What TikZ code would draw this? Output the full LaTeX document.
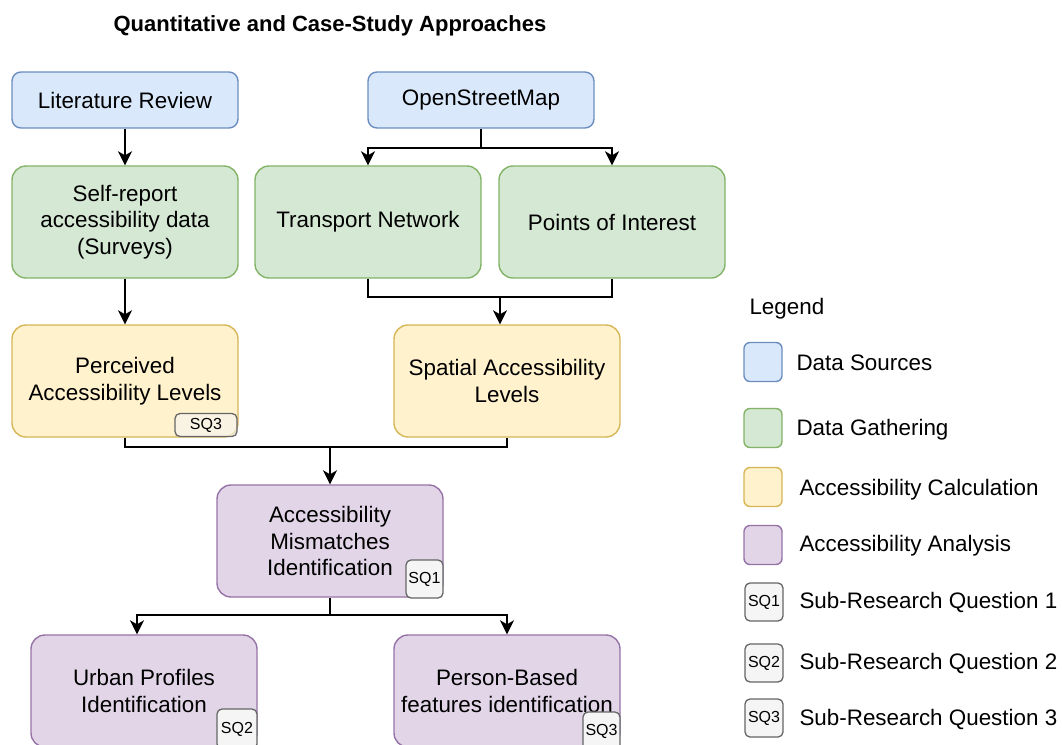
\documentclass[tikz,border=0pt]{standalone}
\usepackage{fontspec}
\setmainfont{Liberation Sans}
\usetikzlibrary{positioning,arrows.meta}
\definecolor{srcfill}{HTML}{DAE8FC}
\definecolor{srcline}{HTML}{6C8EBF}
\definecolor{gatherfill}{HTML}{D5E8D4}
\definecolor{gatherline}{HTML}{82B366}
\definecolor{calcfill}{HTML}{FFF2CC}
\definecolor{calcline}{HTML}{D6B656}
\definecolor{anafill}{HTML}{E1D5E7}
\definecolor{analine}{HTML}{9673A6}
\definecolor{sqfill}{HTML}{F5F5F5}
\definecolor{sqline}{HTML}{666666}
\newcommand{\diagfont}{\fontsize{22.4}{26.5}\selectfont}
\newcommand{\sqfont}{\fontsize{16}{18}\selectfont}
\tikzset{
  stage/.style={rounded corners=14pt,line width=1.4pt,minimum width=226pt,minimum height=112pt,align=center,font=\diagfont,inner sep=2pt},
  srcbox/.style={stage,draw=srcline,fill=srcfill,rounded corners=9pt,minimum height=56pt},
  gatherbox/.style={stage,draw=gatherline,fill=gatherfill},
  calcbox/.style={stage,draw=calcline,fill=calcfill},
  anabox/.style={stage,draw=analine,fill=anafill},
  sqbox/.style={draw=sqline,fill=sqfill,rounded corners=5pt,line width=1.3pt,inner sep=0pt,font=\sqfont,minimum width=37pt,minimum height=38pt},
  keybox/.style={rounded corners=6pt,line width=1.4pt,minimum width=38pt,minimum height=39pt,inner sep=0pt},
  keytext/.style={anchor=west,font=\diagfont},
  wire/.style={draw=black,line width=2pt},
  flow/.style={wire,-{Stealth[length=14pt,width=14pt,inset=4pt]}}}
\begin{document}
\begin{tikzpicture}[x=1pt,y=-1pt]
  \useasboundingbox (0,0) rectangle (1062,744);
  \node[font=\fontsize{22}{24}\selectfont\bfseries] (title) at (330,26) {Quantitative and Case-Study Approaches};
  % sources
  \node[srcbox] (lit) at (125,100) {Literature Review};
  \node[srcbox] (osm) at (481,100) {OpenStreetMap};
  % gathering
  \node[gatherbox] (self) at (125,222) {Self-report\\accessibility data\\(Surveys)};
  \node[gatherbox] (tn) at (368,222) {Transport Network};
  \node[gatherbox] (poi) at (612,222) {Points of Interest};
  % calculation
  \node[calcbox] (perc) at (125,381) {Perceived\\Accessibility Levels};
  \node[calcbox] (sp) at (507,381) {Spatial Accessibility\\Levels};
  % analysis
  \node[anabox] (mism) at (330,541) {Accessibility\\Mismatches\\Identification};
  \node[anabox] (urban) at (144,691) {Urban Profiles\\Identification};
  \node[anabox] (person) at (507,691) {Person-Based\\features identification};
  % badges
  \node[sqbox,fill opacity=0.6,text opacity=1,minimum width=62pt,minimum height=23pt] (sqa) at (206,425) {SQ3};
  \node[sqbox] (sqb) at (424.5,579) {SQ1};
  \node[sqbox,minimum width=40pt,minimum height=40pt] (sqc) at (237,729) {SQ2};
  \node[sqbox] (sqd) at (601.5,731) {SQ3};
  % connectors
  \draw[flow] (lit) -- (self);
  \coordinate (osmj) at (481,148);
  \draw[wire] (osm) -- (osmj);
  \draw[flow] (osmj) -| (tn.north);
  \draw[flow] (osmj) -| (poi.north);
  \draw[flow] (self) -- (perc);
  \coordinate (tj) at (500,297);
  \draw[wire] (tn.south) |- (tj) -| (poi.south);
  \draw[flow] (tj) -- (tj |- sp.north);
  \coordinate (mj) at (330,447);
  \draw[wire] (perc.south) |- (mj) -| (sp.south);
  \draw[flow] (mj) -- (mism);
  \coordinate (bj) at (330,615);
  \draw[wire] (mism) -- (bj);
  \draw[flow] (bj) -| ([xshift=-7pt]urban.north);
  \draw[flow] (bj) -| (person.north);
  % legend
  \node[anchor=west,font=\diagfont] (leg) at (746,309) {Legend};
  \node[keybox,draw=srcline,fill=srcfill] (k1) at (763,362) {};
  \node[keybox,draw=gatherline,fill=gatherfill] (k2) at (763,428) {};
  \node[keybox,draw=calcline,fill=calcfill] (k3) at (763,487) {};
  \node[keybox,draw=analine,fill=anafill] (k4) at (763,545) {};
  \node[sqbox,minimum width=38pt] (k5) at (764,602) {SQ1};
  \node[sqbox,minimum width=38pt] (k6) at (764,663) {SQ2};
  \node[sqbox,minimum width=38pt] (k7) at (764,718) {SQ3};
  \node[keytext] at (793,363) {Data Sources};
  \node[keytext] at (793,430) {Data Gathering};
  \node[keytext] at (796,490) {Accessibility Calculation};
  \node[keytext] at (796,546) {Accessibility Analysis};
  \node[keytext] at (796,602) {Sub-Research Question 1};
  \node[keytext] at (796,663) {Sub-Research Question 2};
  \node[keytext] at (796,719) {Sub-Research Question 3};
\end{tikzpicture}
\end{document}
